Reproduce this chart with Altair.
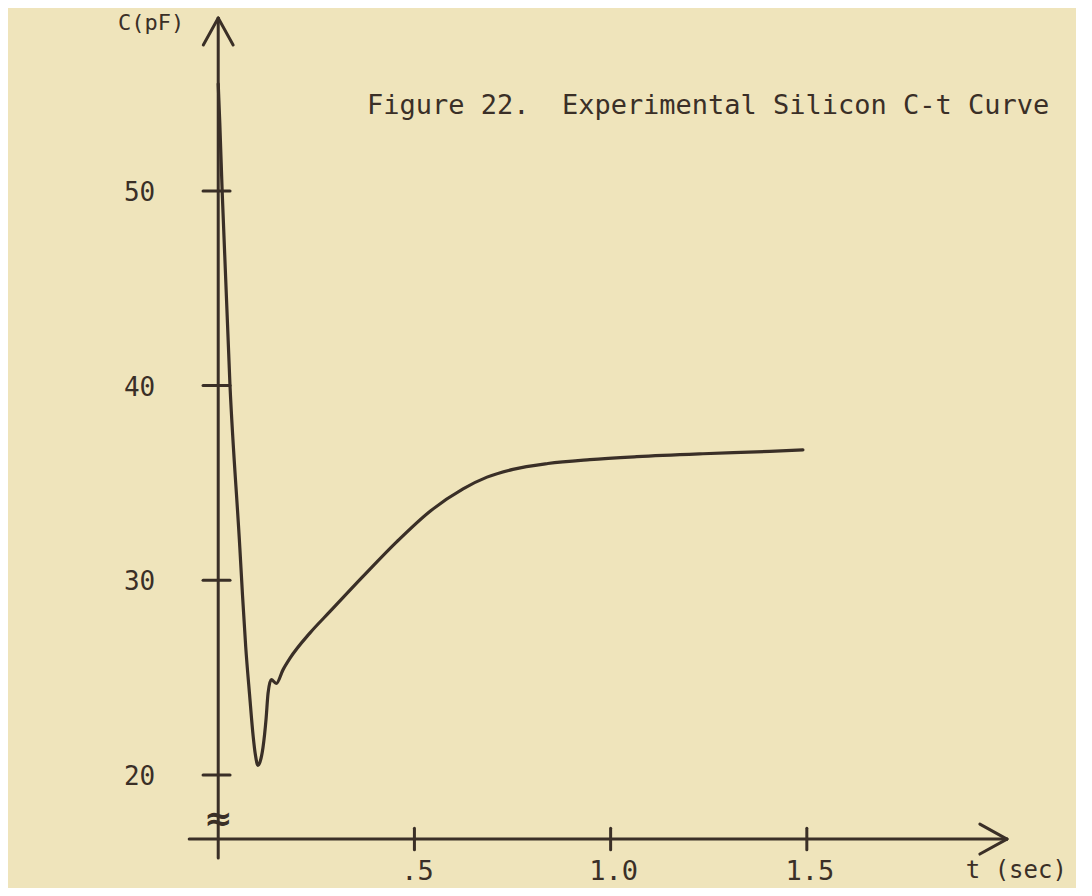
import altair as alt
import pandas as pd

# ---- data (t in seconds, C in pF) ----
t_sec = [0.000, 0.004, 0.010, 0.030, 0.055, 0.062, 0.070, 0.080, 0.089, 0.095,
         0.101, 0.107, 0.114, 0.122, 0.127, 0.135, 0.148, 0.165, 0.183, 0.234,
         0.285, 0.369, 0.456, 0.540, 0.624, 0.685, 0.751, 0.840, 0.947, 1.067,
         1.235, 1.406, 1.490]
c_pf = [55.5, 53.5, 50.0, 40.0, 31.7, 29.2, 26.6, 24.1, 22.0, 21.0,
        20.5, 20.7, 21.4, 22.9, 24.2, 24.9, 24.7, 25.4, 26.0, 27.3,
        28.4, 30.2, 32.0, 33.55, 34.7, 35.3, 35.7, 36.0, 36.2, 36.35,
        36.5, 36.62, 36.7]

x_ticks = [0.5, 1.0, 1.5]
x_tick_labels = [".5", "1.0", "1.5"]
y_ticks = [20, 30, 40, 50]
y_tick_labels = ["20", "30", "40", "50"]

title_text = "Figure 22.\u00a0 Experimental Silicon C-t Curve"
x_title = "t (sec)"
y_title = "C(pF)"

# ---- styling ----
INK = "#3a2f27"
BG = "#efe4bb"
FONT = "DejaVu Sans Mono"

X = alt.Scale(domain=[-0.3, 2.15], nice=False, zero=False)
Y = alt.Scale(domain=[16, 59], nice=False, zero=False)

curve_df = pd.DataFrame({"t": t_sec, "C": c_pf})

# hand-drawn style axes expressed in data units
x_axis_C = 16.71
y_top = 58.88
x_tip = 2.01
segs = []
segs.append((0.0, 15.74, 0.0, y_top))                 # y axis line
segs.append((-0.038, 57.5, 0.0, y_top))               # y arrow wing
segs.append((0.038, 57.5, 0.0, y_top))                # y arrow wing
segs.append((-0.074, x_axis_C, x_tip, x_axis_C))      # x axis line
segs.append((1.941, x_axis_C + 0.77, x_tip, x_axis_C))
segs.append((1.941, x_axis_C - 0.77, x_tip, x_axis_C))
for v in y_ticks:
    segs.append((-0.0387, v, 0.0301, v))
for v in x_ticks:
    segs.append((v, x_axis_C - 0.55, v, x_axis_C + 0.55))
seg_df = pd.DataFrame(segs, columns=["x", "y", "x2", "y2"])


def enc_x(f):
    return alt.X(f, scale=X, axis=None)


def enc_y(f):
    return alt.Y(f, scale=Y, axis=None)


axes = alt.Chart(seg_df).mark_rule(color=INK, strokeWidth=3, strokeCap="round").encode(
    x=enc_x("x:Q"), y=enc_y("y:Q"), x2="x2:Q", y2="y2:Q"
)

curve = alt.Chart(curve_df).mark_line(
    color=INK, strokeWidth=3.2, interpolate="monotone", strokeCap="round", strokeJoin="round"
).encode(x=enc_x("t:Q"), y=enc_y("C:Q"), order="t:Q")

ylab_df = pd.DataFrame({"t": [0.0] * len(y_ticks), "C": y_ticks, "lab": y_tick_labels})
ylabs = alt.Chart(ylab_df).mark_text(
    align="right", baseline="alphabetic", dx=-63, dy=10, font=FONT, fontSize=26, color=INK
).encode(x=enc_x("t:Q"), y=enc_y("C:Q"), text="lab:N")

xlab_df = pd.DataFrame({"t": x_ticks, "C": [14.6] * len(x_ticks), "lab": x_tick_labels})
xlabs = alt.Chart(xlab_df).mark_text(
    align="center", baseline="alphabetic", dx=3, font=FONT, fontSize=27, color=INK
).encode(x=enc_x("t:Q"), y=enc_y("C:Q"), text="lab:N")


def label(t, c, txt, size):
    df = pd.DataFrame({"t": [t], "C": [c], "lab": [txt]})
    return alt.Chart(df).mark_text(
        align="left", baseline="alphabetic", font=FONT, fontSize=size, color=INK
    ).encode(x=enc_x("t:Q"), y=enc_y("C:Q"), text="lab:N")


title = label(0.379, 53.95, title_text, 27)
xt = label(1.905, 14.7, x_title, 24)
yt = label(-0.2554, 58.25, y_title, 22)

brk_df = pd.DataFrame({"t": [0.0], "C": [17.69], "lab": ["\u2248"]})
brk = alt.Chart(brk_df).mark_text(
    align="center", baseline="middle", font="DejaVu Sans", fontSize=34, color=INK, fontWeight="bold"
).encode(x=enc_x("t:Q"), y=enc_y("C:Q"), text="lab:N")

chart = alt.layer(axes, curve, ylabs, xlabs, title, xt, yt, brk).properties(
    width=961.4,
    height=837.2,
    padding={"left": 92.5, "top": 7.7, "right": 14, "bottom": 35},
    autosize=alt.AutoSizeParams(type="none"),
    background=BG,
).configure_view(stroke=None)

chart.save("out.html", embed_options={"renderer": "svg", "actions": False})
